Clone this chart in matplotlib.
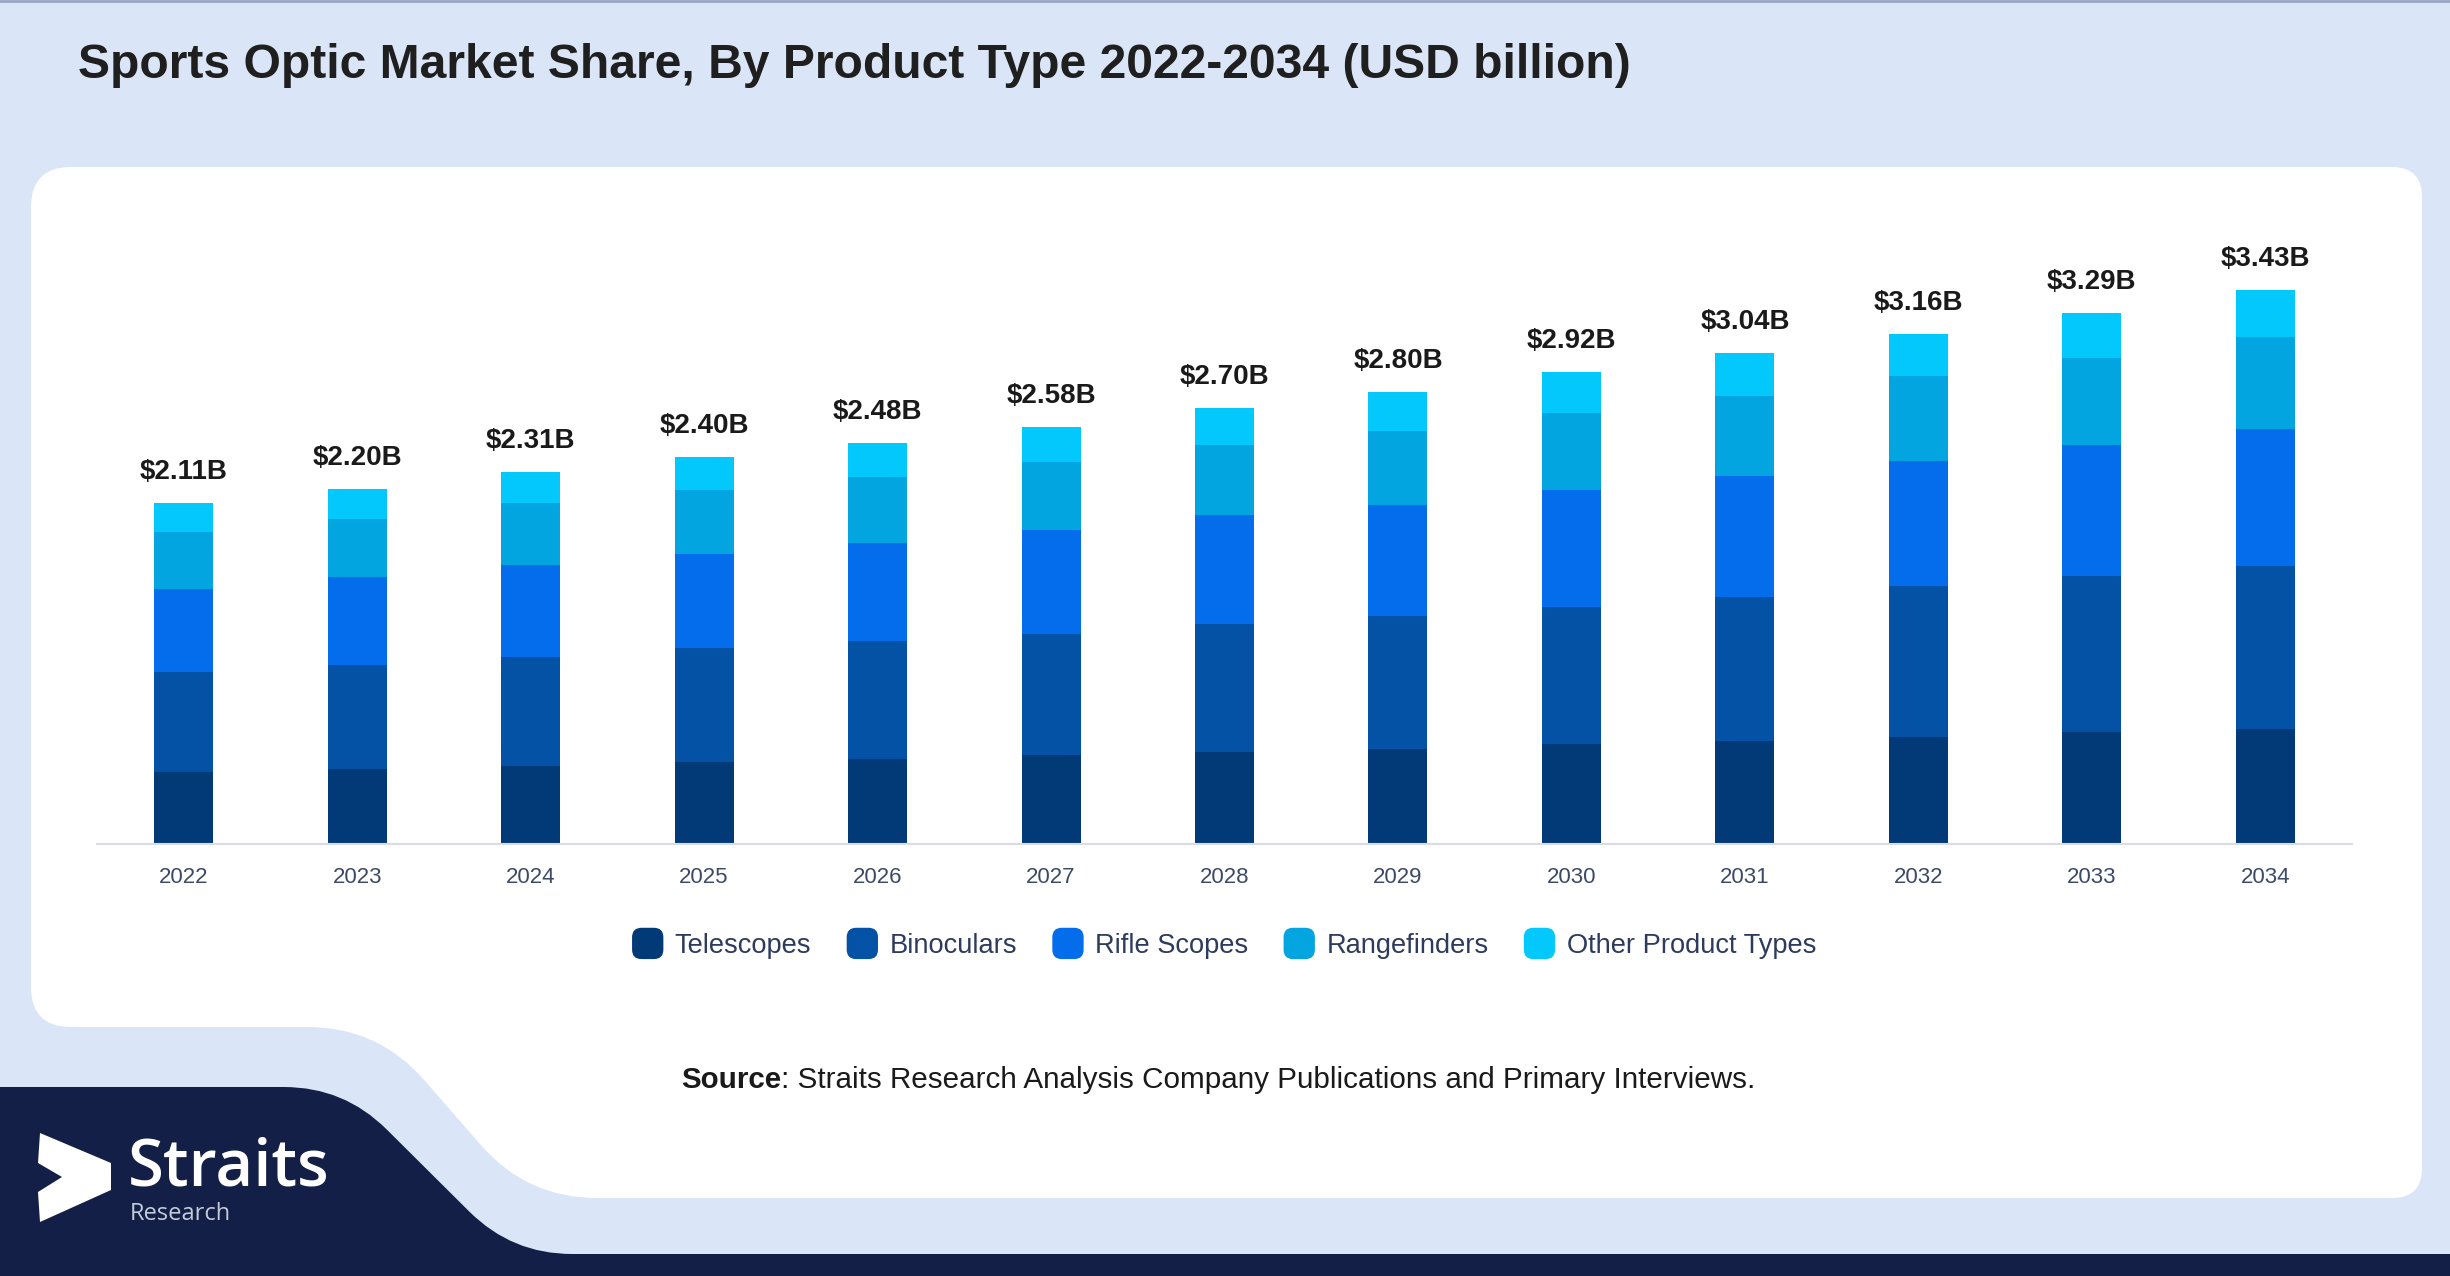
import numpy as np
import matplotlib
matplotlib.use("Agg")
import matplotlib.pyplot as plt
from matplotlib.path import Path
from matplotlib.patches import PathPatch, Patch, FancyBboxPatch, Polygon
from matplotlib.legend_handler import HandlerPatch

plt.rcParams['font.family'] = ['Liberation Sans', 'DejaVu Sans']

# data (USD billion)
years = ['2022', '2023', '2024', '2025', '2026', '2027', '2028',
         '2029', '2030', '2031', '2032', '2033', '2034']
telescopes = [0.444, 0.462, 0.483, 0.506, 0.523, 0.548, 0.569, 0.586, 0.617, 0.634, 0.662, 0.694, 0.713]
binoculars = [0.620, 0.647, 0.677, 0.706, 0.733, 0.753, 0.795, 0.827, 0.851, 0.893, 0.934, 0.963, 1.009]
rifle_scopes = [0.517, 0.543, 0.568, 0.585, 0.607, 0.640, 0.670, 0.684, 0.721, 0.753, 0.775, 0.812, 0.850]
rangefinders = [0.349, 0.357, 0.382, 0.392, 0.412, 0.423, 0.435, 0.462, 0.477, 0.496, 0.525, 0.543, 0.565]
other_types = [0.180, 0.190, 0.196, 0.208, 0.205, 0.216, 0.230, 0.241, 0.255, 0.264, 0.261, 0.277, 0.293]

series_names = ['Telescopes', 'Binoculars', 'Rifle Scopes', 'Rangefinders', 'Other Product Types']
series = [telescopes, binoculars, rifle_scopes, rangefinders, other_types]
colors = ['#023a78', '#0352a6', '#036deb', '#03a5e0', '#03c8fc']

W, H = 2450, 1276
fig = plt.figure(figsize=(W / 100, H / 100), dpi=100)
fig.patch.set_facecolor('#dae6f7')


def rounded_path(pts, radii):
    verts, codes = [], []
    n = len(pts)
    for i in range(n):
        p0, p1, p2 = np.array(pts[i - 1], float), np.array(pts[i], float), np.array(pts[(i + 1) % n], float)
        r = radii[i]
        d1 = (p0 - p1) / np.linalg.norm(p0 - p1)
        d2 = (p2 - p1) / np.linalg.norm(p2 - p1)
        a, b = p1 + d1 * r, p1 + d2 * r
        verts.append(a)
        codes.append(Path.MOVETO if i == 0 else Path.LINETO)
        verts += [p1, b]
        codes += [Path.CURVE3, Path.CURVE3]
    verts.append(verts[0])
    codes.append(Path.CLOSEPOLY)
    return Path(verts, codes)


# background shapes in pixel coordinates
bg = fig.add_axes([0, 0, 1, 1], zorder=-1)
bg.set_xlim(0, W)
bg.set_ylim(H, 0)
bg.axis('off')
bg.axhline(1, color='#9aa5c5', lw=2)

panel = [(31, 167), (2422, 167), (2422, 1198), (527, 1198), (378, 1027), (31, 1027)]
bg.add_patch(PathPatch(rounded_path(panel, [40, 30, 30, 70, 70, 40]), fc='white', ec='none'))

navy = [(-5, 1087), (344, 1087), (512, 1254), (2460, 1254), (2460, 1290), (-5, 1290)]
bg.add_patch(PathPatch(rounded_path(navy, [1, 60, 60, 1, 1, 1]), fc='#131f47', ec='none'))

# logo
bg.add_patch(Polygon([(40, 1133), (111, 1163), (111, 1190), (40, 1222), (38, 1192), (62, 1177), (38, 1163)],
                     closed=True, fc='white', ec='none'))
bg.text(128, 1186, 'Straits', color='white', fontsize=47, fontweight='semibold',
        family=['Open Sans', 'DejaVu Sans'], va='baseline', ha='left')
bg.text(130, 1220, 'Research', color='#c5ccd9', fontsize=17,
        family=['Open Sans', 'DejaVu Sans'], va='baseline', ha='left')

# title and source
fig.text(78 / W, 1 - 66 / H, 'Sports Optic Market Share, By Product Type 2022-2034 (USD billion)',
         fontsize=34.6, fontweight='bold', color='#1f1f1f', va='center', ha='left')
src = bg.text(681, 1080, 'Source', fontsize=21.3, fontweight='bold', color='#1a1a1a', va='center', ha='left')
bg.annotate(': Straits Research Analysis Company Publications and Primary Interviews.',
            xy=(1, 0.5), xycoords=src, va='center', ha='left', fontsize=21.3, color='#1a1a1a')

# chart
ax = fig.add_axes([97 / W, 432.25 / H, 2255 / W, 645.6 / H])
ax.patch.set_alpha(0)
x = np.arange(len(years))
bottom = np.zeros(len(years))
for name, vals, c in zip(series_names, series, colors):
    ax.bar(x, vals, width=0.34, bottom=bottom, color=c, label=name, zorder=2)
    bottom += np.array(vals)

for xi, tot in zip(x, bottom):
    ax.annotate(f'${tot:.2f}B', (xi, tot), xytext=(0, 13), textcoords='offset points',
                ha='center', va='bottom', fontsize=20, fontweight='bold', color='#1a1a1a')

ax.set_xlim(-0.5, 12.5)
ax.set_ylim(0, 4)
ax.set_xticks(x)
ax.set_xticklabels(years, fontsize=16, color='#3d4a66')
ax.tick_params(axis='x', length=0, pad=16.5)
ax.set_yticks([])
for s in ['top', 'right', 'left']:
    ax.spines[s].set_visible(False)
ax.spines['bottom'].set_color('#d9dde3')
ax.spines['bottom'].set_linewidth(1.5)


class RoundHandler(HandlerPatch):
    def create_artists(self, legend, orig_handle, xdescent, ydescent, width, height, fontsize, trans):
        s = min(width, height * 1.3)
        p = FancyBboxPatch((-xdescent + (width - s) / 2, -ydescent + (height - s) / 2), s, s,
                           boxstyle=f'round,pad=0,rounding_size={s * 0.3}',
                           fc=orig_handle.get_facecolor(), ec='none', transform=trans)
        return [p]


handles = [Patch(color=c, label=n) for n, c in zip(series_names, colors)]
fig.legend(handles=handles, loc='center', bbox_to_anchor=(1224 / W, 1 - 945 / H), ncol=5,
           frameon=False, fontsize=19.6, labelcolor='#2d3b5c', handlelength=1.15, handleheight=1.0,
           handletextpad=0.42, columnspacing=1.3, handler_map={Patch: RoundHandler()})

fig.savefig('out.png', dpi=100, facecolor=fig.get_facecolor())
